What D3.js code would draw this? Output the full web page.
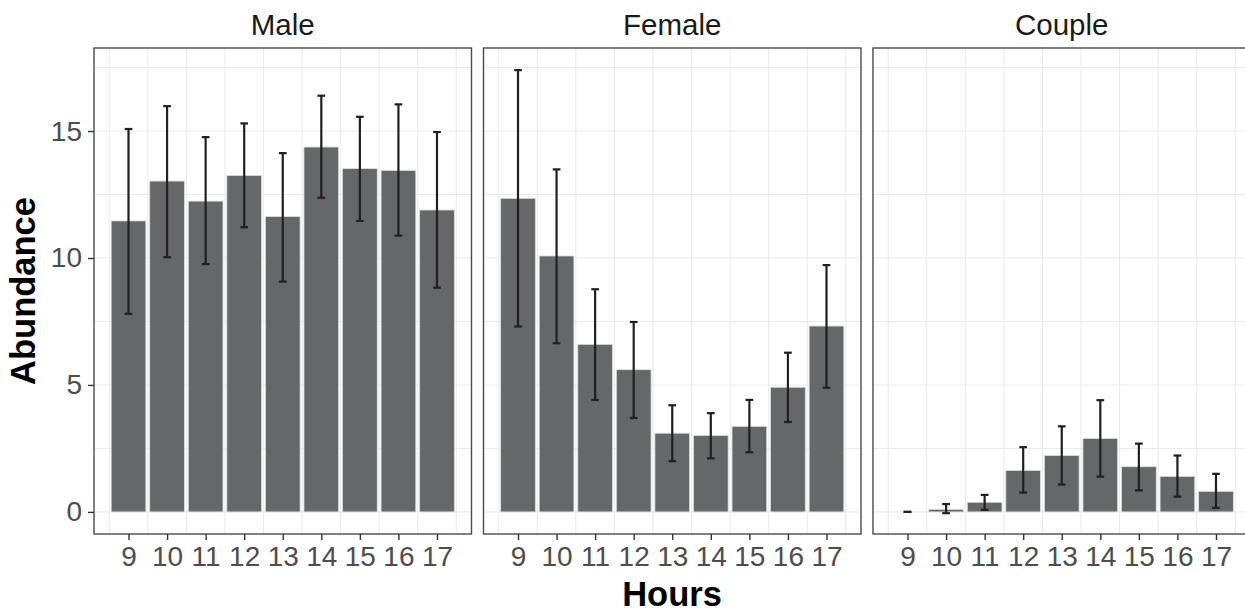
<!DOCTYPE html>
<html>
<head>
<meta charset="utf-8">
<script src="https://cdn.jsdelivr.net/npm/d3@7"></script>
<style>
  html, body { margin: 0; padding: 0; background: #fff; }
  svg { display: block; font-family: "Liberation Sans", Arial, sans-serif; }
</style>
</head>
<body>
<svg id="chart" width="1245" height="612"></svg>
<script>
// ---- data ----
const hours = [9, 10, 11, 12, 13, 14, 15, 16, 17];
const panels = ["Male", "Female", "Couple"];

const maleMean  = [11.46, 13.03, 12.24, 13.25, 11.63, 14.37, 13.52, 13.45, 11.89];
const maleLow   = [7.80, 10.03, 9.76, 11.21, 9.07, 12.37, 11.46, 10.88, 8.83];
const maleHigh  = [15.08, 15.98, 14.76, 15.30, 14.13, 16.39, 15.56, 16.05, 14.96];

const femaleMean = [12.35, 10.08, 6.60, 5.60, 3.10, 3.01, 3.37, 4.91, 7.32];
const femaleLow  = [7.30, 6.64, 4.41, 3.70, 2.00, 2.11, 2.35, 3.54, 4.89];
const femaleHigh = [17.40, 13.49, 8.77, 7.48, 4.20, 3.89, 4.41, 6.27, 9.72];

const coupleMean = [0.00, 0.10, 0.38, 1.63, 2.22, 2.89, 1.78, 1.40, 0.81];
const coupleLow  = [0.00, -0.05, 0.08, 0.76, 1.08, 1.39, 0.85, 0.60, 0.16];
const coupleHigh = [0.00, 0.31, 0.67, 2.55, 3.37, 4.40, 2.69, 2.22, 1.50];

const yTicks = [0, 5, 10, 15];
const yGrid = [0, 2.5, 5, 7.5, 10, 12.5, 15, 17.5];
const xGrid = [8.5, 9.5, 10.5, 11.5, 12.5, 13.5, 14.5, 15.5, 16.5, 17.5];

const series = {
  Male:   { mean: maleMean, low: maleLow, high: maleHigh },
  Female: { mean: femaleMean, low: femaleLow, high: femaleHigh },
  Couple: { mean: coupleMean, low: coupleLow, high: coupleHigh }
};

// ---- layout ----
const svg = d3.select("#chart");
const padL = 94, panelW = 377.5, gap = 12, padT = 48, padB = 534;

const x = d3.scaleLinear().domain([8.105, 17.895]).range([0, panelW]);
const y = d3.scaleLinear().domain([-0.87, 18.27]).range([padB, padT]);
const barW = x(9.45) - x(8.55);
const capW = x(9.1) - x(8.9);

panels.forEach((name, i) => {
  const px = padL + i * (panelW + gap);
  const g = svg.append("g").attr("transform", `translate(${px},0)`);
  const d = series[name];
  const rows = hours.map((h, k) => ({ h, m: d.mean[k], lo: d.low[k], hi: d.high[k] }));

  g.append("rect").attr("x", 0).attr("y", padT).attr("width", panelW).attr("height", padB - padT)
    .attr("fill", "#fff");

  // grid
  g.selectAll(".hg").data(yGrid).enter().append("line")
    .attr("x1", 0).attr("x2", panelW).attr("y1", v => y(v)).attr("y2", v => y(v))
    .attr("stroke", "#ebebeb").attr("stroke-width", 1.1);
  g.selectAll(".vg").data(xGrid).enter().append("line")
    .attr("x1", v => x(v)).attr("x2", v => x(v)).attr("y1", padT).attr("y2", padB)
    .attr("stroke", "#ebebeb").attr("stroke-width", 1.1);

  // bars
  g.selectAll(".bar").data(rows).enter().append("rect")
    .attr("x", r => x(r.h) - barW / 2)
    .attr("width", barW)
    .attr("y", r => y(Math.max(0, r.m)))
    .attr("height", r => Math.abs(y(0) - y(r.m)))
    .attr("fill", "#666769")
    .attr("stroke", "#dedede").attr("stroke-width", 0.8);

  // error bars
  const eb = g.selectAll(".eb").data(rows).enter().append("g")
    .attr("stroke", "#231f20").attr("stroke-width", 2.2);
  eb.append("line").attr("x1", r => x(r.h)).attr("x2", r => x(r.h))
    .attr("y1", r => y(r.lo)).attr("y2", r => y(r.hi));
  eb.append("line").attr("x1", r => x(r.h) - capW / 2).attr("x2", r => x(r.h) + capW / 2)
    .attr("y1", r => y(r.hi)).attr("y2", r => y(r.hi));
  eb.append("line").attr("x1", r => x(r.h) - capW / 2).attr("x2", r => x(r.h) + capW / 2)
    .attr("y1", r => y(r.lo)).attr("y2", r => y(r.lo));

  // border
  g.append("rect").attr("x", 0).attr("y", padT).attr("width", panelW).attr("height", padB - padT)
    .attr("fill", "none").attr("stroke", "#4a4a4a").attr("stroke-width", 1.4);

  // x axis
  const xa = g.append("g").attr("transform", `translate(0,${padB})`)
    .call(d3.axisBottom(x).tickValues(hours).tickFormat(d3.format("d")).tickSize(6).tickPadding(6));
  xa.select(".domain").remove();
  xa.selectAll(".tick line").attr("stroke", "#333").attr("stroke-width", 1.4);
  xa.selectAll(".tick text").attr("fill", "#4d4d4d").style("font-size", "28px")
    .attr("font-family", "'Liberation Sans', Arial, sans-serif");

  if (i === 0) {
    const ya = g.append("g")
      .call(d3.axisLeft(y).tickValues(yTicks).tickFormat(d3.format("d")).tickSize(6).tickPadding(6));
    ya.select(".domain").remove();
    ya.selectAll(".tick line").attr("stroke", "#333").attr("stroke-width", 1.4);
    ya.selectAll(".tick text").attr("fill", "#4d4d4d").style("font-size", "28px")
      .attr("font-family", "'Liberation Sans', Arial, sans-serif");
  }

  // strip label
  g.append("text").attr("x", panelW / 2).attr("y", 35).attr("text-anchor", "middle")
    .attr("fill", "#1a1a1a").style("font-size", "29.5px").text(name);
});

// axis titles
svg.append("text").attr("x", 672).attr("y", 606).attr("text-anchor", "middle")
  .attr("fill", "#000").style("font-size", "34.5px").style("font-weight", "bold").text("Hours");
svg.append("text").attr("transform", `translate(35,${(padT + padB) / 2}) rotate(-90)`)
  .attr("text-anchor", "middle").attr("fill", "#000")
  .style("font-size", "34.5px").style("font-weight", "bold").text("Abundance");
</script>
</body>
</html>
